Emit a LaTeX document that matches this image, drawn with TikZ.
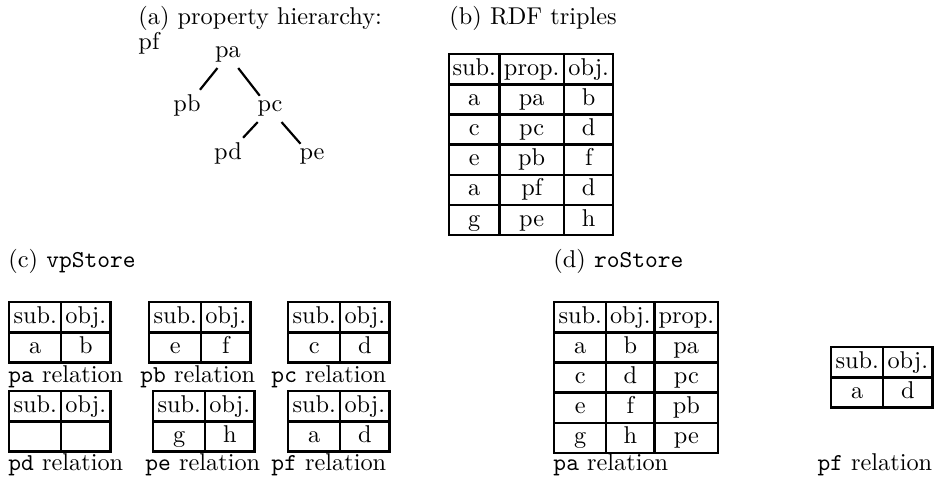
\documentclass[tikz,border=0pt]{standalone}
\usepackage{amsmath}
\usepackage{tikz}
\usetikzlibrary{matrix}

\begin{document}
\begin{tikzpicture}[x=0.4115pt,y=-0.4115pt,
  lbl/.style={anchor=base west,inner sep=0pt},
  prop/.style={anchor=base,inner sep=2pt},
  tbl/.style={matrix of nodes,nodes in empty cells,anchor=north west,
    inner sep=0pt,outer sep=0pt,column sep=-1pt,row sep=-1pt,
    nodes={draw,line width=1pt,minimum height=12.4pt,inner sep=1pt,
      text height=6.9pt,text depth=1.9pt,anchor=center}},
  twocol/.style={tbl,column 1/.style={nodes={minimum width=21.4pt}},
    column 2/.style={nodes={minimum width=20.2pt}}},
  rdfcol/.style={tbl,column 1/.style={nodes={minimum width=20.6pt}},
    column 2/.style={nodes={minimum width=26.7pt}},
    column 3/.style={nodes={minimum width=20.2pt}}},
  rocol/.style={tbl,column 1/.style={nodes={minimum width=21.4pt}},
    column 2/.style={nodes={minimum width=19.8pt}},
    column 3/.style={nodes={minimum width=26.3pt}}}]
 \useasboundingbox (0,0) rectangle (935,481);

 % (a) property hierarchy
 \node[lbl] (capa) at (138,25) {(a) property hierarchy:};
 \node[lbl] (pf) at (138,50) {pf};
 \node[prop] (pa) at (228,58) {pa};
 \node[prop] (pb) at (187,112) {pb};
 \node[prop] (pc) at (270,112) {pc};
 \node[prop] (pd) at (228,160) {pd};
 \node[prop] (pe) at (312,160) {pe};
 \draw[line width=0.9pt] (pa) -- (pb);
 \draw[line width=0.9pt] (pa) -- (pc);
 \draw[line width=0.9pt] (pc) -- (pd);
 \draw[line width=0.9pt] (pc) -- (pe);

 % (b) RDF triples
 \node[lbl] (capb) at (449,25) {(b) RDF triples};
 \matrix (rdf) [rdfcol] at (448,53) {
  sub. & prop. & obj. \\
  a & pa & b \\
  c & pc & d \\
  e & pb & f \\
  a & pf & d \\
  g & pe & h \\
 };

 % (c) vpStore
 \node[lbl] (capc) at (8,267) {(c) \texttt{vpStore}};
 \matrix (vpa) [twocol] at (8,301) { sub. & obj. \\ a & b \\ };
 \matrix (vpb) [twocol] at (148,301) { sub. & obj. \\ e & f \\ };
 \matrix (vpc) [twocol] at (287,301) { sub. & obj. \\ c & d \\ };
 \node[lbl] (lpa) at (8,382) {\texttt{pa} relation};
 \node[lbl] (lpb) at (140,382) {\texttt{pb} relation};
 \node[lbl] (lpc) at (271,382) {\texttt{pc} relation};
 \matrix (vpd) [twocol] at (8,390) { sub. & obj. \\ & \\ };
 \matrix (vpe) [twocol] at (152,390) { sub. & obj. \\ g & h \\ };
 \matrix (vpf) [twocol] at (287,390) { sub. & obj. \\ a & d \\ };
 \node[lbl] (lpd) at (8,470) {\texttt{pd} relation};
 \node[lbl] (lpe) at (145,470) {\texttt{pe} relation};
 \node[lbl] (lpf) at (271,470) {\texttt{pf} relation};

 % (d) roStore
 \node[lbl] (capd) at (553,267) {(d) \texttt{roStore}};
 \matrix (ropa) [rocol] at (553,301) {
  sub. & obj. & prop. \\
  a & b & pa \\
  c & d & pc \\
  e & f & pb \\
  g & h & pe \\
 };
 \matrix (ropf) [twocol] at (830,346) { sub. & obj. \\ a & d \\ };
 \node[lbl] (rpa) at (553,470) {\texttt{pa} relation};
 \node[lbl] (rpf) at (817,470) {\texttt{pf} relation};
\end{tikzpicture}
\end{document}
